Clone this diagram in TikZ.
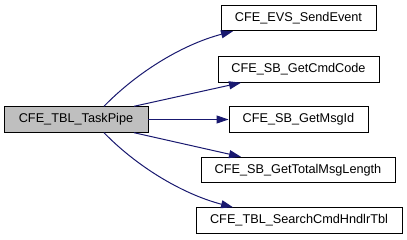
\documentclass[tikz,border=0pt]{standalone}
\usepackage{fontspec}
\setmainfont{Liberation Sans}
\usetikzlibrary{arrows.meta}
\definecolor{edgeblue}{HTML}{191970}
\definecolor{nodegrey}{HTML}{BFBFBF}
\tikzset{
  fn/.style={draw=black, line width=0.9pt, fill=white, inner sep=0pt,
    minimum height=25.5pt, font=\fontsize{12.7}{15}\selectfont},
  rootfn/.style={fn, fill=nodegrey},
  call/.style={draw=edgeblue, line width=1pt,
    -{Triangle[length=12pt,width=8pt]}, shorten >=0pt},
}
\begin{document}
\begin{tikzpicture}[x=1pt,y=-1pt]
\useasboundingbox (0,0) rectangle (407,240);
\fill[white] (0,0) rectangle (407,240);

\node[rootfn, minimum width=144pt] (pipe) at (76,119.5) {CFE\_TBL\_TaskPipe};
\node[fn, minimum width=155pt] (evs) at (298.5,18) {CFE\_EVS\_SendEvent};
\node[fn, minimum width=161pt] (cmd) at (298.5,69.5) {CFE\_SB\_GetCmdCode};
\node[fn, minimum width=139pt] (mid) at (298.5,119.5) {CFE\_SB\_GetMsgId};
\node[fn, minimum width=194pt] (len) at (298,170) {CFE\_SB\_GetTotalMsgLength};
\node[fn, minimum width=206pt] (hnd) at (299,220.5) {CFE\_TBL\_SearchCmdHndlrTbl};

\draw[call] ([xshift=28pt]pipe.north) .. controls +(31,-32) and +(-53,14) .. ([xshift=-65.5pt]evs.south);
\draw[call] ([xshift=58pt]pipe.north) -- ([xshift=-57.5pt]cmd.south);
\draw[call] (pipe.east) -- (mid.west);
\draw[call] ([xshift=58pt]pipe.south) -- ([xshift=-57pt]len.north);
\draw[call] ([xshift=28pt]pipe.south) .. controls +(31,32) and +(-53,-14) .. ([xshift=-66pt]hnd.north);
\end{tikzpicture}
\end{document}
